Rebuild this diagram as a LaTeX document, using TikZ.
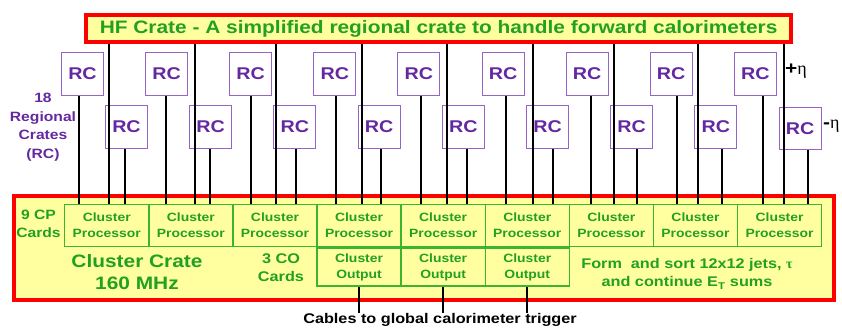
\documentclass[tikz,border=0pt]{standalone}
\usepackage{fontspec}
\setmainfont{Liberation Sans}[FakeStretch=1.16]
\newfontfamily\etafont{Liberation Serif}
\definecolor{rcborder}{RGB}{150,100,200}
\definecolor{rctext}{RGB}{100,40,160}
\definecolor{txtgreen}{RGB}{34,160,34}
\definecolor{cpgreen}{RGB}{60,180,50}
\definecolor{cratered}{RGB}{255,0,0}
\definecolor{crateyellow}{RGB}{255,255,160}
\tikzset{
  rcbox/.style={draw=rcborder, line width=1pt, minimum width=42pt, minimum height=42.5pt,
    inner sep=0pt, anchor=north west, text=rctext, font=\fontsize{17}{20}\selectfont\bfseries},
  cpbox/.style={draw=cpgreen, line width=1.4pt, fill=crateyellow, minimum width=84.1pt,
    minimum height=42pt, inner sep=0pt, anchor=north west, align=center, text=txtgreen,
    font=\fontsize{12}{16}\selectfont\bfseries},
  cobox/.style={cpbox, minimum height=38pt},
  redbox/.style={draw=cratered, line width=4pt, fill=crateyellow, inner sep=0pt},
  wire/.style={black, line width=2pt},
  greentext/.style={text=txtgreen, align=center, inner sep=0pt},
  purpletext/.style={text=rctext, align=center, inner sep=0pt,
    font=\fontsize{13.5}{18.5}\selectfont\bfseries},
}
\begin{document}
\begin{tikzpicture}[x=1pt,y=-1pt]
\useasboundingbox (0,0) rectangle (842,329);
% title box
\node[redbox, minimum width=705.3pt, minimum height=27.8pt, greentext,
  font=\fontsize{18}{20}\selectfont\bfseries] (hf) at (438.6,28.6)
  {HF Crate - A simplified regional crate to handle forward calorimeters};
% cluster crate
\node[redbox, minimum width=819.5pt, minimum height=103.7pt] (crate) at (423.75,247.85) {};
% cluster processors
\foreach \i in {1,...,9}{
  \node[cpbox] (cp\i) at ({64+84.1*(\i-1)},204) {Cluster\\Processor};
}
% cluster outputs
\foreach \i in {4,5,6}{
  \node[cobox] (co\i) at (cp\i.south west) {Cluster\\Output};
}
% regional crates
\foreach \i in {1,...,9}{
  \node[rcbox] (u\i) at ({61+84.1*(\i-1)},52) {RC};
}
\foreach \i in {1,...,8}{
  \node[rcbox] (l\i) at ({105+84.2*(\i-1)},105) {RC};
}
\node[rcbox] (l9) at (778.6,106.5) {RC};
% wires
\foreach \i/\ux/\hx/\lx/\uw/\lw in {1/79/109/125/2/1.3, 2/166/195/210/2/2, 3/251/276/296/2/1.3,
  4/336/362/381/1.3/2, 5/421/447/467/2/2, 6/506/533/553/2/2, 7/591/614/637/2/1.3,
  8/677/698/722/2/2, 9/763/784/808/2/2}{
  \coordinate (ux\i) at (\ux,0);
  \coordinate (hx\i) at (\hx,0);
  \coordinate (lx\i) at (\lx,0);
  \draw[wire, line width=\uw pt] (u\i.south -| ux\i) -- (cp\i.north -| ux\i);
  \draw[wire] (hf.south -| hx\i) -- (cp\i.north -| hx\i);
  \draw[wire, line width=\lw pt] (l\i.south -| lx\i) -- (cp\i.north -| lx\i);
}
% cables
\node[inner sep=0pt, font=\fontsize{14}{16}\selectfont\bfseries] (cables) at (440,320)
  {Cables to global calorimeter trigger};
\foreach \i in {4,5,6}{
  \draw[wire] (co\i.south) -- (co\i.south |- cables.north);
}
% labels
\node[purpletext] (regional) at (43,127) {18\\Regional\\Crates\\(RC)};
\node[inner sep=0pt, anchor=west, font=\fontsize{18}{20}\selectfont] (peta) at (785,71)
  {\textbf{+}\etafont η};
\node[inner sep=0pt, anchor=west, font=\fontsize{18}{20}\selectfont] (meta) at (823,126)
  {\textbf{-}\etafont η};
\node[greentext, font=\fontsize{13.5}{18}\selectfont\bfseries] (cpcards) at (38.5,224) {9 CP\\Cards};
\node[greentext, font=\fontsize{18}{22}\selectfont\bfseries] (ccrate) at (137,272) {Cluster Crate\\160 MHz};
\node[greentext, font=\fontsize{14}{18}\selectfont\bfseries] (cocards) at (281,268) {3 CO\\Cards};
\node[greentext, font=\fontsize{14}{18}\selectfont\bfseries] (form) at (687,274)
  {Form~ and sort 12x12 jets, {\etafont τ}\\and continue E\textsubscript{T} sums};
\end{tikzpicture}
\end{document}
